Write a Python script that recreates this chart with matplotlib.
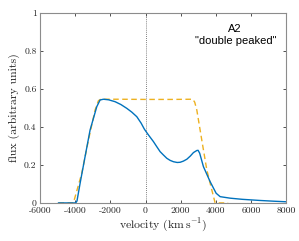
import matplotlib
matplotlib.use("Agg")
import matplotlib.pyplot as plt

plt.rcParams['mathtext.fontset'] = 'cm'
plt.rcParams['axes.unicode_minus'] = False
plt.rcParams['axes.formatter.use_mathtext'] = False

# Observed line profile (blue)
blue_v = [-4950, -3970, -3900, -3723, -3439, -3154, -2773, -2585, -2397, -2100,
          -1731, -1400, -1066, -780, -496, -250, -63, 150, 449, 641, 830, 1000,
          1211, 1400, 1587, 1800, 1968, 2150, 2349, 2550, 2725, 2918, 2990,
          3080, 3294, 3675, 4017, 4245, 4814, 5500, 6500, 7300, 8000]
blue_f = [0.0, 0.0, 0.01, 0.103, 0.244, 0.384, 0.507, 0.542, 0.546, 0.543,
          0.533, 0.518, 0.498, 0.478, 0.454, 0.42, 0.388, 0.36, 0.323, 0.296,
          0.27, 0.254, 0.235, 0.224, 0.217, 0.213, 0.214, 0.22, 0.23, 0.247,
          0.265, 0.276, 0.277, 0.262, 0.191, 0.112, 0.051, 0.033, 0.025,
          0.019, 0.013, 0.009, 0.006]

# Model profile (orange dashed)
orange_v = [-4950, -4104, -3627, -3250, -2870, -2682, -2550, -1500, 0, 1500,
            2690, 2800, 2918, 3202, 3487, 3771, 3960, 4700]
orange_f = [0.0, 0.0, 0.156, 0.33, 0.489, 0.538, 0.546, 0.546, 0.545, 0.545,
            0.546, 0.53, 0.489, 0.33, 0.174, 0.068, 0.0, 0.0]

xticks = [-6000, -4000, -2000, 0, 2000, 4000, 6000, 8000]
yticks = [0, 0.2, 0.4, 0.6, 0.8, 1]
ytick_labels = ['0', '0.2', '0.4', '0.6', '0.8', '1']

fig = plt.figure(figsize=(2.99, 2.41), dpi=100)
ax = fig.add_axes([0.134, 0.158, 0.823, 0.788])

ax.axvline(0, color='#555555', linestyle=(0, (1, 1.5)), linewidth=0.6)
ax.plot(orange_v, orange_f, color='#EDB120', linestyle=(0, (4, 2.5)), linewidth=1.0)
ax.plot(blue_v, blue_f, color='#0072BD', linewidth=1.0)

ax.set_xlim(-6000, 8000)
ax.set_ylim(0, 1)
ax.set_xticks(xticks)
ax.set_yticks(yticks)
ax.set_xticklabels([str(t) for t in xticks], family='cmr10', fontsize=7, color='#262626')
ax.set_yticklabels(ytick_labels, family='cmr10', fontsize=7, color='#262626')
ax.tick_params(axis='x', pad=3)
ax.tick_params(axis='y', pad=2.5)
ax.tick_params(direction='in', top=True, right=True, length=2.5, width=0.6,
               color='#333333')
for s in ax.spines.values():
    s.set_color('#8c8c8c')
    s.set_linewidth(0.8)

ax.set_xlabel(r'velocity $(\mathrm{km\,s^{-1}})$', family='cmr10', fontsize=8.5,
              labelpad=1, color='#262626')
ax.set_ylabel('flux (arbitrary units)', family='cmr10', fontsize=8.5, labelpad=3,
              color='#262626')

ax.text(0.79, 0.915, 'A2', transform=ax.transAxes, ha='center', va='center',
        family='Liberation Sans', fontsize=8)
ax.text(0.795, 0.855, '"double peaked"', transform=ax.transAxes, ha='center', va='center',
        family='Liberation Sans', fontsize=8)

fig.savefig('out.png', dpi=100)
